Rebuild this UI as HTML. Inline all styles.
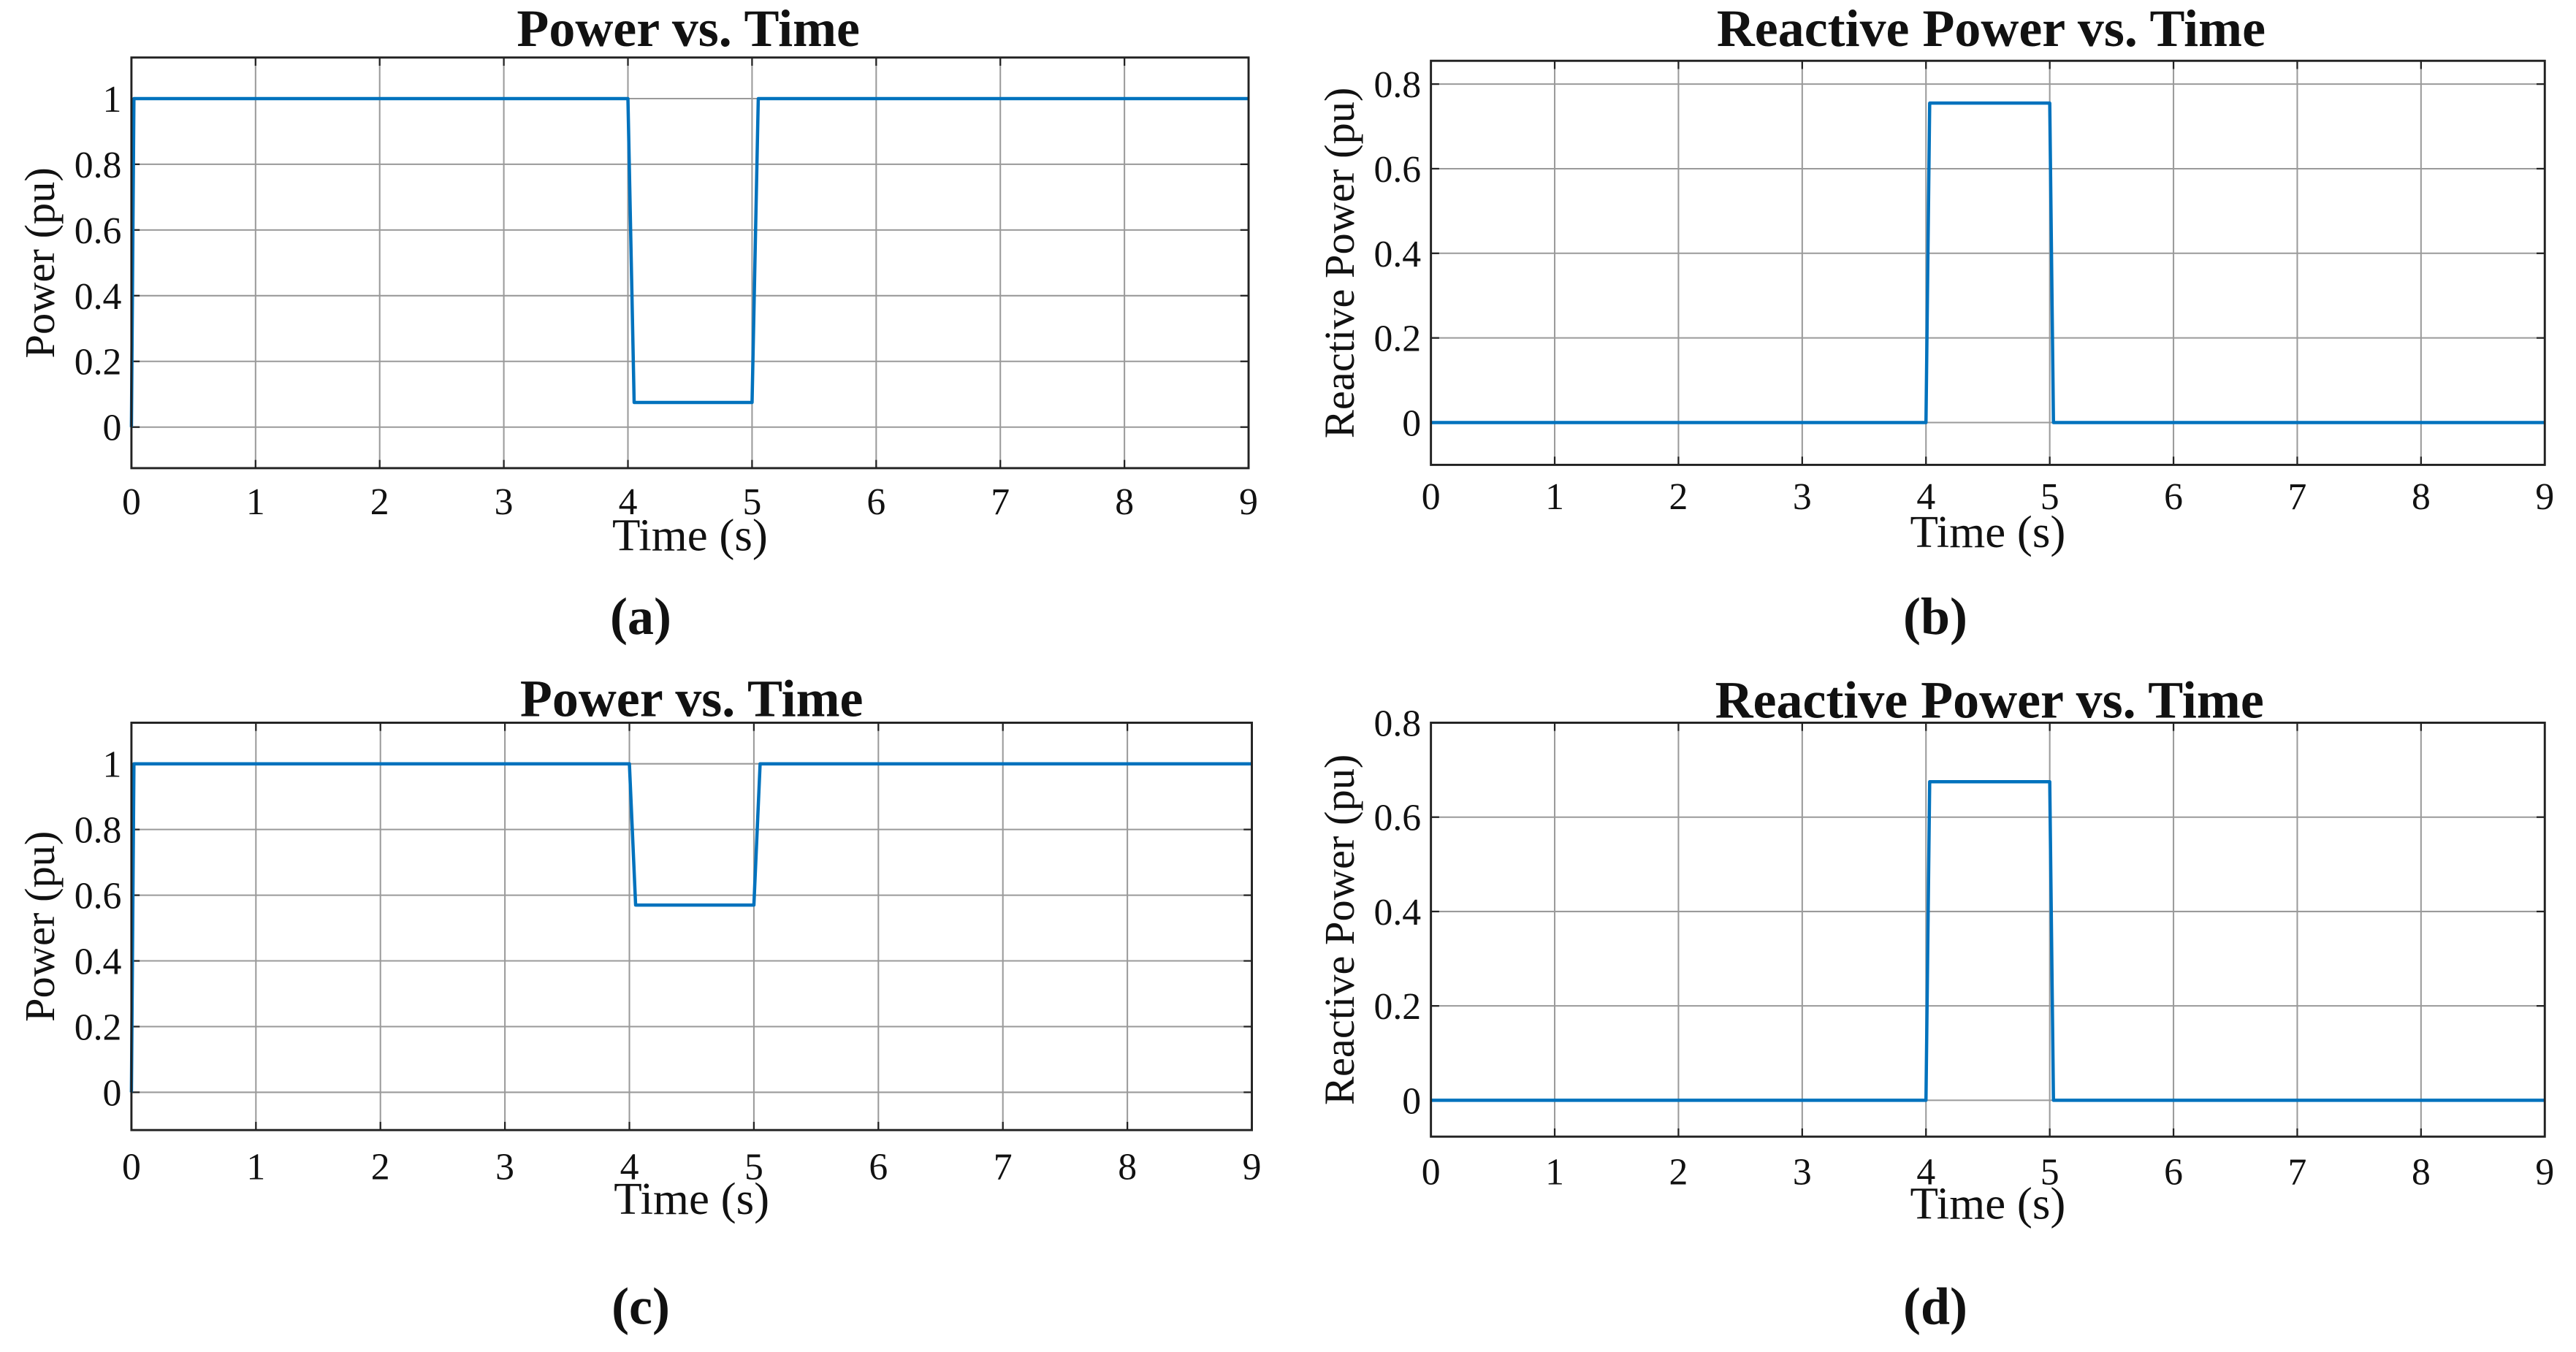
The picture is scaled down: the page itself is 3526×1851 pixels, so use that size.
<!DOCTYPE html>
<html><head><meta charset="utf-8"><style>
html,body{margin:0;padding:0;background:#fff;}
svg{display:block;}
text{font-family:"Liberation Serif",serif;fill:#111;}
</style></head><body>
<svg id="fig" width="3526" height="1851" viewBox="0 0 1568 823.1" xmlns="http://www.w3.org/2000/svg"></svg>
<script>
// Panel data (time in s, value in pu)
const xTicks = [0,1,2,3,4,5,6,7,8,9];
const aTime = [0, 0.02, 4.0, 4.05, 5.0, 5.05, 9];
const aValue = [0, 1, 1, 0.075, 0.075, 1, 1];
const bTime = [0, 4.0, 4.03, 5.0, 5.03, 9];
const bValue = [0, 0, 0.755, 0.755, 0, 0];
const cTime = [0, 0.02, 4.0, 4.05, 5.0, 5.05, 9];
const cValue = [0, 1, 1, 0.57, 0.57, 1, 1];
const dTime = [0, 4.0, 4.03, 5.0, 5.03, 9];
const dValue = [0, 0, 0.675, 0.675, 0, 0];
const powerTicks = [0, 0.2, 0.4, 0.6, 0.8, 1];
const powerTickLabels = ["0","0.2","0.4","0.6","0.8","1"];
const reactTicks = [0, 0.2, 0.4, 0.6, 0.8];
const reactTickLabels = ["0","0.2","0.4","0.6","0.8"];

const NS = "http://www.w3.org/2000/svg";
const svg = document.getElementById('fig');
function mk(tag, attrs, parent){
  const e = document.createElementNS(NS, tag);
  for (const k in attrs) e.setAttribute(k, attrs[k]);
  (parent||svg).appendChild(e);
  return e;
}
const panels = [
  {id:'a', L:80, R:760, T:35, B:285, ymin:-0.125, ymax:1.125, t:aTime, v:aValue, yt:powerTicks, yl:powerTickLabels,
   title:'Power vs. Time', ylab:'Power (pu)', tx:419, ty:28, xly:335, cap:'(a)', cx:390, cy:386, ylx:33, xtl:313},
  {id:'b', L:871, R:1549, T:37, B:283, ymin:-0.1, ymax:0.855, t:bTime, v:bValue, yt:reactTicks, yl:reactTickLabels,
   title:'Reactive Power vs. Time', ylab:'Reactive Power (pu)', tx:1212, ty:28, xly:333, cap:'(b)', cx:1178, cy:386, ylx:824, xtl:310},
  {id:'c', L:80, R:762, T:440, B:688, ymin:-0.115, ymax:1.125, t:cTime, v:cValue, yt:powerTicks, yl:powerTickLabels,
   title:'Power vs. Time', ylab:'Power (pu)', tx:421, ty:436, xly:739, cap:'(c)', cx:390, cy:806, ylx:33, xtl:718},
  {id:'d', L:871, R:1549, T:440, B:692, ymin:-0.077, ymax:0.8, t:dTime, v:dValue, yt:reactTicks, yl:reactTickLabels,
   title:'Reactive Power vs. Time', ylab:'Reactive Power (pu)', tx:1211, ty:437, xly:742, cap:'(d)', cx:1178, cy:806, ylx:824, xtl:721}
];
panels.forEach(p=>{
  const g = mk('g', {});
  
  
  const X = t => p.L + (t - 0) / 9 * (p.R - p.L);
  const Y = v => p.B - (v - p.ymin) / (p.ymax - p.ymin) * (p.B - p.T);
  xTicks.forEach(t=>{
    const l = mk('line', {x1:X(t), x2:X(t), y1:p.T, y2:p.B, stroke:'#9a9a9a', 'stroke-width':0.9}, g);
    
    
    mk('line', {x1:X(t), x2:X(t), y1:p.T, y2:p.T+5, stroke:'#222', 'stroke-width':1}, g);
    mk('line', {x1:X(t), x2:X(t), y1:p.B, y2:p.B-5, stroke:'#222', 'stroke-width':1}, g);
    const tl = mk('text', {x:X(t), y:p.xtl, 'font-size':23, 'text-anchor':'middle'}, g);
    tl.textContent = String(t);
    
    
  });
  p.yt.forEach((v,i)=>{
    const l = mk('line', {x1:p.L, x2:p.R, y1:Y(v), y2:Y(v), stroke:'#9a9a9a', 'stroke-width':0.9}, g);
    
    
    mk('line', {x1:p.L, x2:p.L+5, y1:Y(v), y2:Y(v), stroke:'#222', 'stroke-width':1}, g);
    mk('line', {x1:p.R, x2:p.R-5, y1:Y(v), y2:Y(v), stroke:'#222', 'stroke-width':1}, g);
    const tl = mk('text', {x:p.L-6, y:Y(v)+8, 'font-size':23, 'text-anchor':'end'}, g);
    tl.textContent = p.yl[i];
    
    
  });
  const pts = p.t.map((t,i)=>X(t).toFixed(2)+','+Y(p.v[i]).toFixed(2)).join(' ');
  const line = mk('polyline', {points:pts, fill:'none', stroke:'#0072BD', 'stroke-width':2, 'stroke-linejoin':'round'}, g);
  
  
  const box = mk('rect', {x:p.L, y:p.T, width:p.R-p.L, height:p.B-p.T, fill:'none', stroke:'#222', 'stroke-width':1.3}, g);
  
  
  const ti = mk('text', {x:p.tx, y:p.ty, 'font-size':32, 'font-weight':'bold', 'text-anchor':'middle'}, g);
  ti.textContent = p.title;
  
  
  const xl = mk('text', {x:(p.L+p.R)/2, y:p.xly, 'font-size':28, 'text-anchor':'middle'}, g);
  xl.textContent = 'Time (s)';
  
  
  const cy = (p.T+p.B)/2;
  const yl = mk('text', {x:p.ylx, y:cy, 'font-size':26, 'text-anchor':'middle', transform:'rotate(-90 '+p.ylx+' '+cy+')'}, g);
  yl.textContent = p.ylab;
  
  
  const cap = mk('text', {x:p.cx, y:p.cy, 'font-size':32, 'font-weight':'bold', 'text-anchor':'middle'}, g);
  cap.textContent = p.cap;
  
  
});
</script>
</body></html>
